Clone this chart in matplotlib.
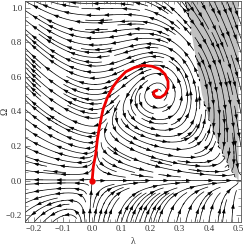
import numpy as np
import matplotlib
matplotlib.use("Agg")
import matplotlib.pyplot as plt
from matplotlib.patches import FancyArrowPatch
from matplotlib.ticker import MultipleLocator

# Edge of the grey (excluded) region: lambda value at each Omega.
edge_omega = [0.0, 0.09, 0.18, 0.28, 0.38, 0.5, 0.65, 0.8, 0.95, 1.04]
edge_lambda = [0.5, 0.465, 0.44, 0.415, 0.395, 0.375, 0.36, 0.345, 0.33, 0.318]

# Red trajectory from the origin into the spiral point.
traj_lambda = [0.0, 0.004, 0.012, 0.018, 0.026, 0.037, 0.052, 0.07, 0.092, 0.115, 0.145,
               0.175, 0.205, 0.232, 0.25, 0.26, 0.26, 0.25, 0.235, 0.218, 0.21, 0.212, 0.222]
traj_omega = [0.0, 0.08, 0.15, 0.24, 0.32, 0.41, 0.48, 0.54, 0.59, 0.63, 0.655,
              0.667, 0.662, 0.645, 0.615, 0.575, 0.535, 0.5, 0.482, 0.485, 0.5, 0.515, 0.522]

# Fixed points of the flow.
spiral_lam, spiral_om = 0.225, 0.505
node_lam = 0.5

# Flow parameters.
K = 7.0
D = 0.16
D2 = 0.2
s_low, s_high = 2.135, 1.2

lam = np.linspace(-0.23, 0.51, 150)
om = np.linspace(-0.24, 1.04, 150)
L, O = np.meshgrid(lam, om)

B = spiral_lam * (node_lam - spiral_lam) / spiral_om
dw = O - spiral_om
N = spiral_lam - np.where(dw < 0, s_low, s_high) * dw ** 3
Lnull = -0.08 + 0.09 * np.tanh(np.clip(O, 0, None) / 0.2)

dL = L * (node_lam - L) - B * O - D * O * dw - D2 * O ** 2 * dw
dO = K * O * (L - Lnull) * (L - N)

# The flow reverses across the edge of the grey region.
grey = (O > 0) & (L > np.interp(O, edge_omega, edge_lambda))
dL = np.where(grey, -dL, dL)
dO = np.where(grey, -dO, dO)

plt.rcParams['font.family'] = ['Liberation Serif', 'DejaVu Serif']
fig = plt.figure(figsize=(2.49, 2.48), dpi=100)
ax = fig.add_axes([25 / 249, 1 - 222 / 248, 216 / 249, 221 / 248])

ax.fill_betweenx(edge_omega, edge_lambda, 0.5, color='#c0c0c0', lw=0, zorder=0)
strm = ax.streamplot(L, O, dL, dO, density=1.6, color='k', linewidth=0.5,
                     arrowstyle='-', zorder=1)

ax.set_xlim(-0.23, 0.51)
ax.set_ylim(-0.24, 1.04)

# several arrowheads along each streamline
for seg in strm.lines.get_segments():
    if len(seg) < 3:
        continue
    pix = ax.transData.transform(seg)
    cum = np.concatenate([[0], np.cumsum(np.hypot(*np.diff(pix, axis=0).T))])
    total = cum[-1]
    if total < 10:
        continue
    n = max(1, int(total // 20))
    for k in range(n):
        i = np.searchsorted(cum, total * (k + 0.5) / n)
        i = min(max(i, 2), len(seg) - 1)
        ax.add_patch(FancyArrowPatch(seg[i - 2], seg[i], arrowstyle='-|>,head_length=0.6,head_width=0.22',
                                     mutation_scale=5, color='k', lw=0.3,
                                     shrinkA=0, shrinkB=0, zorder=2))

ax.plot(traj_lambda, traj_omega, color='#ee0000', lw=2.0, zorder=3, solid_capstyle='round')
ax.plot([0], [0], 'o', color='#ee0000', ms=3.5, zorder=4)

ax.xaxis.set_major_locator(MultipleLocator(0.1))
ax.xaxis.set_minor_locator(MultipleLocator(0.02))
ax.yaxis.set_major_locator(MultipleLocator(0.2))
ax.yaxis.set_minor_locator(MultipleLocator(0.05))
ax.tick_params(which='both', direction='in', top=True, right=True, color='#555555',
               labelsize=6.5, labelcolor='#333333', pad=2)
ax.tick_params(which='major', length=3.5, width=0.5)
ax.tick_params(which='minor', length=2, width=0.4)
for sp in ax.spines.values():
    sp.set_color('#555555')
    sp.set_linewidth(0.6)

ax.set_xlabel('λ', fontsize=7, color='#333333', labelpad=3)
ax.set_ylabel('Ω', fontsize=7, color='#333333')
ax.yaxis.set_label_coords(-16 / 216, 0.5)

fig.savefig('out.png', dpi=100)
